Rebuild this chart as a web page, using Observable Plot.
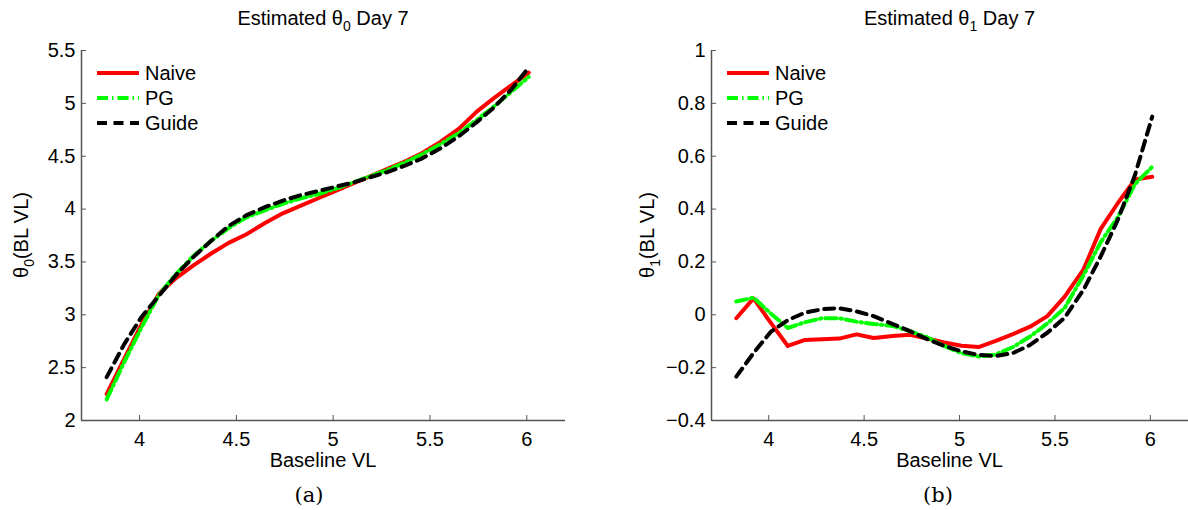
<!DOCTYPE html>
<html><head><meta charset="utf-8">
<script src="https://cdn.jsdelivr.net/npm/d3@7"></script>
<script src="https://cdn.jsdelivr.net/npm/@observablehq/plot@0.6"></script>
<style>
body{margin:0;background:#fff;}
#wrap{position:relative;width:1188px;height:510px;font-family:"Liberation Sans",Arial,sans-serif;}
#wrap svg{position:absolute;top:0;overflow:visible;}
</style></head><body><div id="wrap"></div>
<script>
const baselineVL = [3.83,3.92,4.01,4.10,4.19,4.28,4.37,4.46,4.55,4.65,4.74,4.83,4.92,5.01,5.10,5.19,5.28,5.37,5.46,5.55,5.65,5.74,5.83,5.92,6.01];
const theta0Naive = [2.25,2.58,2.91,3.20,3.35,3.47,3.58,3.68,3.76,3.87,3.96,4.03,4.10,4.17,4.24,4.31,4.38,4.45,4.53,4.63,4.76,4.92,5.05,5.17,5.29];
const theta0PG    = [2.20,2.55,2.88,3.19,3.39,3.56,3.70,3.82,3.92,3.99,4.05,4.10,4.14,4.19,4.25,4.31,4.37,4.44,4.52,4.61,4.72,4.84,4.97,5.11,5.25];
const theta0Guide = [2.41,2.72,2.98,3.18,3.38,3.55,3.70,3.84,3.94,4.02,4.08,4.13,4.17,4.21,4.25,4.30,4.35,4.41,4.48,4.57,4.69,4.82,4.96,5.13,5.34];
const theta1Naive = [-0.013,0.062,-0.03,-0.118,-0.095,-0.093,-0.09,-0.074,-0.088,-0.08,-0.076,-0.09,-0.105,-0.117,-0.122,-0.099,-0.073,-0.045,-0.005,0.068,0.172,0.325,0.423,0.512,0.522];
const theta1PG    = [0.05,0.065,0.005,-0.05,-0.028,-0.013,-0.013,-0.026,-0.035,-0.042,-0.062,-0.085,-0.118,-0.145,-0.158,-0.15,-0.122,-0.082,-0.033,0.025,0.15,0.275,0.37,0.495,0.56];
const theta1Guide = [-0.234,-0.145,-0.065,-0.02,0.008,0.021,0.025,0.013,-0.005,-0.035,-0.062,-0.092,-0.118,-0.138,-0.152,-0.156,-0.145,-0.114,-0.068,-0.012,0.095,0.221,0.36,0.53,0.75];
const xTicks = [4,4.5,5,5.5,6];
const yTicks0 = [2,2.5,3,3.5,4,4.5,5,5.5];
const yTicks1 = [-0.4,-0.2,0,0.2,0.4,0.6,0.8,1];
const seriesNames = ["Naive","PG","Guide"];

const axisGray = "#555";
const fmt = d => String(d).replace("-", "\u2212");
const styles = {
  Naive: {stroke:"#ff0000", strokeWidth:4},
  PG: {stroke:"#00ff00", strokeWidth:4, strokeDasharray:"11,4,1.5,4"},
  Guide: {stroke:"#000", strokeWidth:4, strokeDasharray:"10,6.5"}
};

function panel(o){
  const rows = baselineVL.map((x,i)=>({x, Naive:o.vals[0][i], PG:o.vals[1][i], Guide:o.vals[2][i]}));
  const W = o.width, mT = 50, mB = 90;
  const plotW = W - o.mL - o.mR, plotH = 510 - mT - mB;
  const svg = Plot.plot({
    width: W, height: 510,
    marginLeft: o.mL, marginRight: o.mR, marginTop: mT, marginBottom: mB,
    style: {fontFamily:"Liberation Sans, Arial, sans-serif", fontSize:"20px", color:"#000", background:"transparent", overflow:"visible"},
    x: {domain:[3.7,6.2]},
    y: {domain:o.yDomain},
    marks: [
      Plot.axisX(xTicks, {tickSize:0, tickPadding:11, label:null, fontSize:20, tickFormat:fmt}),
      Plot.axisY(o.yTicks, {tickSize:0, tickPadding:6, label:null, fontSize:20, tickFormat:fmt}),
      Plot.tickX(xTicks, {x:d=>d, insetTop:plotH-5, stroke:axisGray}),
      Plot.tickY(o.yTicks, {y:d=>d, insetRight:plotW-5, stroke:axisGray}),
      Plot.ruleY([o.yDomain[0]], {stroke:axisGray, strokeWidth:1.5}),
      Plot.ruleX([3.7], {stroke:axisGray, strokeWidth:1.5}),
      ...seriesNames.map(s => Plot.line(rows, {x:"x", y:s, ...styles[s]}))
    ]
  });
  svg.style.left = o.left + "px";
  const g = d3.select(svg);
  const cx = o.mL + plotW/2;
  // title
  const t = g.append("text").attr("x", cx).attr("y", 25).attr("text-anchor","middle")
    .attr("font-size", 20).attr("fill","#000");
  t.append("tspan").text("Estimated θ");
  t.append("tspan").attr("font-size",14).attr("dy",6).text(o.sub);
  t.append("tspan").attr("dy",-6).text(" Day 7");
  // y label
  const yl = g.append("text").attr("transform", `translate(${o.ylx},${mT+plotH/2}) rotate(-90)`)
    .attr("text-anchor","middle").attr("font-size",20).attr("fill","#000");
  yl.append("tspan").text("θ");
  yl.append("tspan").attr("font-size",14).attr("dy",6).text(o.sub);
  yl.append("tspan").attr("dy",-6).text("(BL VL)");
  // x label
  g.append("text").attr("x", cx).attr("y", 467).attr("text-anchor","middle")
    .attr("font-size",20).attr("fill","#000").text("Baseline VL");
  // caption
  g.append("text").attr("x", o.capX).attr("y", 502).attr("text-anchor","middle")
    .attr("font-size",21).attr("font-family","DejaVu Serif, Liberation Serif, serif").attr("fill","#000").text(o.cap);
  // legend
  const lx0 = o.mL + 16, lx1 = o.mL + 58;
  seriesNames.forEach((s,i)=>{
    const y = 73 + i*25;
    const st = styles[s];
    g.append("line").attr("x1",lx0).attr("x2",lx1).attr("y1",y).attr("y2",y)
      .attr("stroke",st.stroke).attr("stroke-width",st.strokeWidth)
      .attr("stroke-dasharray", st.strokeDasharray || null);
    g.append("text").attr("x", lx1+6).attr("y", y).attr("dy","0.35em")
      .attr("text-anchor","start")
      .attr("font-size",20).attr("fill","#000").text(s);
  });
  document.getElementById("wrap").appendChild(svg);
}

panel({left:0, width:594, mL:81, mR:29, yDomain:[2,5.5], yTicks:yTicks0,
  vals:[theta0Naive,theta0PG,theta0Guide], sub:"0", ylx:28, cap:"(a)", capX:309});
panel({left:594, width:594, mL:117, mR:0, yDomain:[-0.4,1], yTicks:yTicks1,
  vals:[theta1Naive,theta1PG,theta1Guide], sub:"1", ylx:60, cap:"(b)", capX:344});
</script></body></html>
